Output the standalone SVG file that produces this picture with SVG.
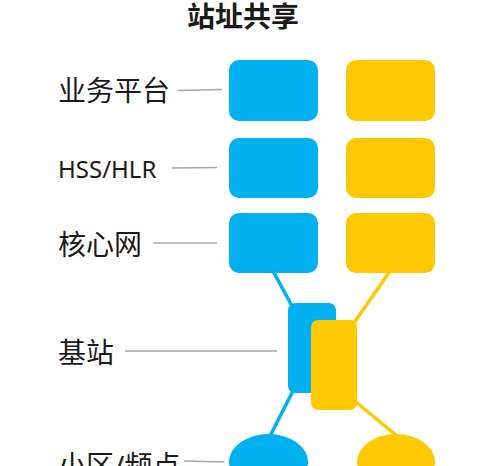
<svg xmlns="http://www.w3.org/2000/svg" width="500" height="466" viewBox="0 0 500 466">
<style>
text{font-family:"Noto Sans","Noto Sans CJK SC",sans-serif;fill:#1a1a1a;font-size:28px}
.title{font-weight:bold}
.hss{font-size:24px}
.lbl{stroke:#a6a6a6;stroke-width:1.5;fill:none}
.b{fill:#00b0f0}
.y{fill:#ffc800}
.cb{stroke:#00b0f0;stroke-width:3.5;fill:none}
.cy{stroke:#ffc800;stroke-width:3.5;fill:none}
</style>
<rect width="500" height="466" fill="#fff"/>
<text class="title" x="243" y="27" text-anchor="middle">站址共享</text>
<g id="labels">
<text x="58" y="101">业务平台</text>
<text class="hss" x="58" y="178">HSS/HLR</text>
<text x="58" y="255">核心网</text>
<text x="58" y="363">基站</text>
<text x="58" y="476">小区/频点</text>
</g>
<g id="connectors">
<line class="lbl" x1="178" y1="90.5" x2="222" y2="89.5"/>
<line class="lbl" x1="172" y1="168" x2="217" y2="167.5"/>
<line class="lbl" x1="153" y1="243" x2="217" y2="243"/>
<line class="lbl" x1="125" y1="351" x2="277" y2="351"/>
<line class="lbl" x1="184" y1="461" x2="224" y2="462"/>
<line class="cb" x1="273" y1="271" x2="292" y2="306"/>
<line class="cb" x1="293" y1="391" x2="270" y2="436"/>
<line class="cy" x1="390" y1="271" x2="354" y2="323"/>
<line class="cy" x1="356" y1="402" x2="397" y2="436"/>
</g>
<g id="app-blue"><rect class="b" x="229" y="60" width="89" height="61" rx="10"/></g>
<g id="app-yellow"><rect class="y" x="346" y="60" width="89" height="61" rx="10"/></g>
<g id="hss-blue"><rect class="b" x="229" y="138" width="89" height="60" rx="10"/></g>
<g id="hss-yellow"><rect class="y" x="346" y="138" width="89" height="60" rx="10"/></g>
<g id="core-blue"><rect class="b" x="229" y="213" width="89" height="60" rx="10"/></g>
<g id="core-yellow"><rect class="y" x="346" y="213" width="89" height="60" rx="10"/></g>
<g id="bs-blue"><rect class="b" x="288" y="303" width="48" height="90" rx="7"/></g>
<g id="bs-yellow"><rect class="y" x="311" y="320" width="46" height="90" rx="7"/></g>
<g id="cell-blue"><ellipse class="b" cx="268.5" cy="462" rx="39.5" ry="28"/></g>
<g id="cell-yellow"><ellipse class="y" cx="396" cy="462" rx="39" ry="28"/></g>
</svg>
